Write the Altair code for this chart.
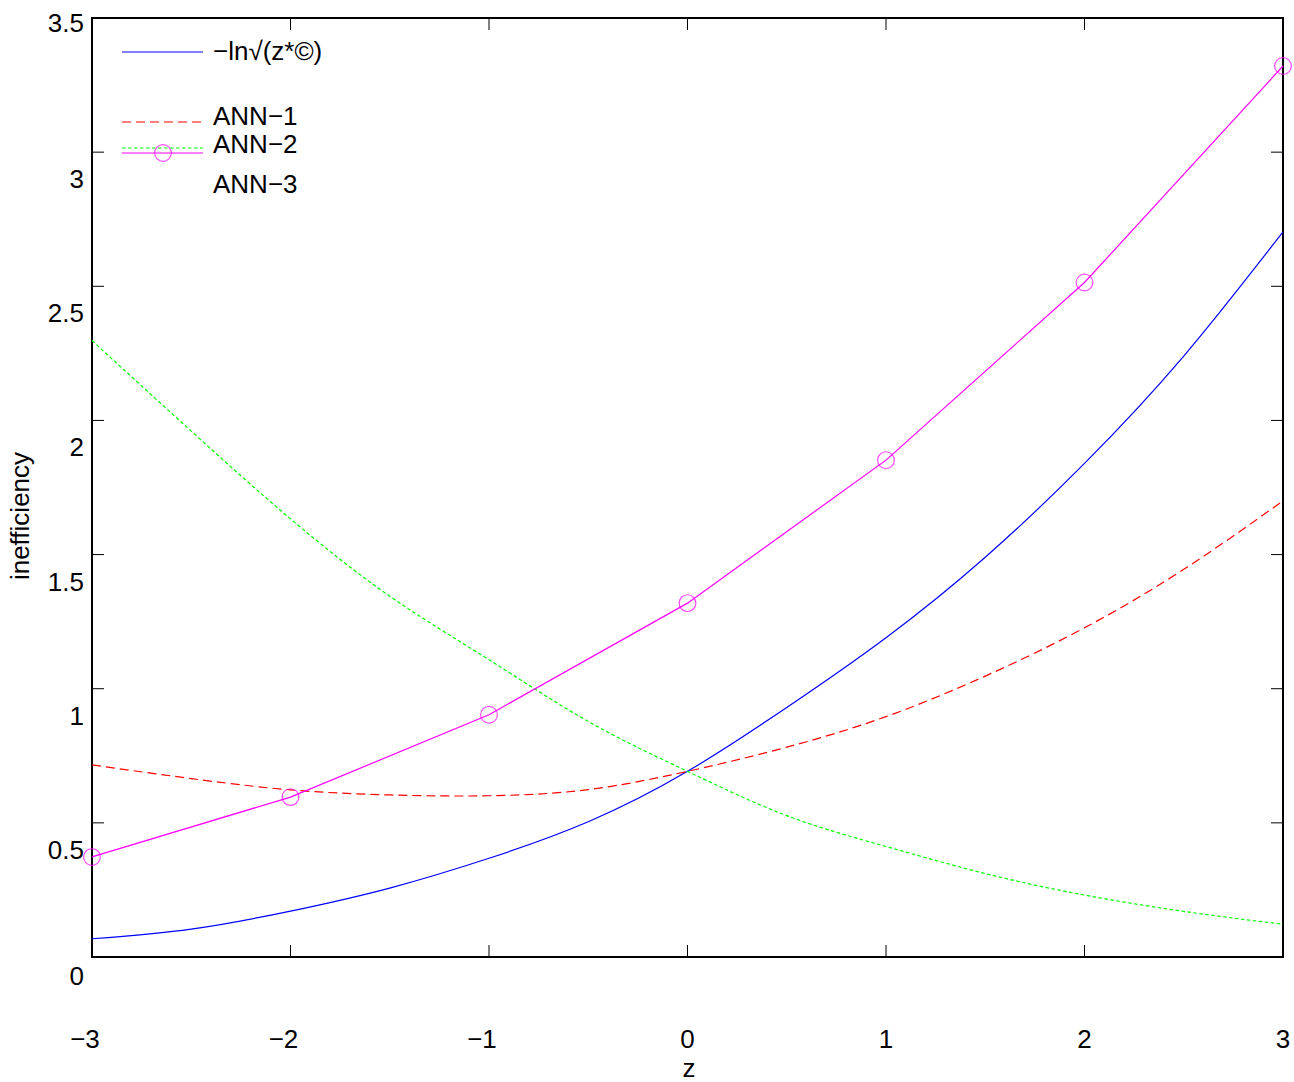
import altair as alt
import pandas as pd

# ---- data ----
z_grid = [-3, -2.5, -2, -1.5, -1, -0.5, 0, 0.5, 1, 1.5, 2, 2.5, 3]
exact_vals = [0.068, 0.104, 0.171, 0.257, 0.368, 0.504, 0.692, 0.93, 1.19, 1.49, 1.84, 2.24, 2.703]
ann1_vals = [0.716, 0.665, 0.623, 0.604, 0.601, 0.624, 0.692, 0.782, 0.896, 1.047, 1.227, 1.445, 1.700]
ann2_vals = [2.298, 1.96, 1.633, 1.345, 1.108, 0.878, 0.692, 0.527, 0.412, 0.311, 0.231, 0.170, 0.122]
z_ann3 = [-3, -2, -1, 0, 1, 2, 3]
ann3_vals = [0.373, 0.596, 0.903, 1.319, 1.852, 2.514, 3.321]

x_ticks = [-3, -2, -1, 0, 1, 2, 3]
x_tick_labels = ["\u22123", "\u22122", "\u22121", "0", "1", "2", "3"]
y_ticks = [0, 0.5, 1, 1.5, 2, 2.5, 3, 3.5]
y_tick_labels = ["0", "0.5", "1", "1.5", "2", "2.5", "3", "3.5"]

legend_labels = ["\u2212ln\u221a(z*\u00a9)", "ANN\u22121", "ANN\u22122", "ANN\u22123"]
x_title = "z"
y_title = "inefficiency"

W, H = 1191, 939
FONT = "Liberation Sans"
FS = 26
TICK = 12

xs = alt.Scale(domain=[-3, 3], nice=False, zero=False)
ys = alt.Scale(domain=[0, 3.5], nice=False, zero=False)

df_exact = pd.DataFrame({"z": z_grid, "v": exact_vals})
df_ann1 = pd.DataFrame({"z": z_grid, "v": ann1_vals})
df_ann2 = pd.DataFrame({"z": z_grid, "v": ann2_vals})
df_ann3 = pd.DataFrame({"z": z_ann3, "v": ann3_vals})
df_xt = pd.DataFrame({"t": x_ticks, "lab": x_tick_labels})
df_yt = pd.DataFrame({"t": y_ticks, "lab": y_tick_labels})
one = pd.DataFrame({"a": [0]})

X = lambda f: alt.X(f, scale=xs, axis=None)
Y = lambda f: alt.Y(f, scale=ys, axis=None)

blue = alt.Chart(df_exact).mark_line(color="#0000ff", strokeWidth=1.2, interpolate="natural").encode(
    x=X("z:Q"), y=Y("v:Q"))
red = alt.Chart(df_ann1).mark_line(color="#ff0000", strokeWidth=1.2, strokeDash=[9, 5], interpolate="natural").encode(
    x=X("z:Q"), y=Y("v:Q"))
green = alt.Chart(df_ann2).mark_line(color="#00ff00", strokeWidth=1.2, strokeDash=[3.5, 2.5], interpolate="natural").encode(
    x=X("z:Q"), y=Y("v:Q"))
mag = alt.Chart(df_ann3).mark_line(color="#ff00ff", strokeWidth=1.2).encode(
    x=X("z:Q"), y=Y("v:Q"))
mag_pts = alt.Chart(df_ann3).mark_point(shape="circle", size=280, filled=False, color="#ff00ff", strokeWidth=1.2).encode(
    x=X("z:Q"), y=Y("v:Q"))

# inward ticks on all four sides
tick_style = dict(color="black", strokeWidth=1)
t_bottom = alt.Chart(df_xt).mark_rule(**tick_style).encode(
    x=X("t:Q"), y=alt.value(H), y2=alt.value(H - TICK))
t_top = alt.Chart(df_xt).mark_rule(**tick_style).encode(
    x=X("t:Q"), y=alt.value(0), y2=alt.value(TICK))
t_left = alt.Chart(df_yt).mark_rule(**tick_style).encode(
    y=Y("t:Q"), x=alt.value(0), x2=alt.value(TICK))
t_right = alt.Chart(df_yt).mark_rule(**tick_style).encode(
    y=Y("t:Q"), x=alt.value(W), x2=alt.value(W - TICK))

# tick labels (MATLAB-style offsets)
txt = dict(font=FONT, fontSize=FS, color="black", baseline="alphabetic")
xl_neg = alt.Chart(df_xt).transform_filter("datum.t < 0").mark_text(align="center", dx=-7, **txt).encode(
    x=X("t:Q"), y=alt.value(H + 91), text="lab:N")
xl_pos = alt.Chart(df_xt).transform_filter("datum.t >= 0").mark_text(align="center", **txt).encode(
    x=X("t:Q"), y=alt.value(H + 91), text="lab:N")
yl_mid = alt.Chart(df_yt).transform_filter("datum.t > 0 && datum.t < 3.5").mark_text(align="right", dy=36, **txt).encode(
    y=Y("t:Q"), x=alt.value(-8), text="lab:N")
yl_top = alt.Chart(df_yt).transform_filter("datum.t >= 3.5").mark_text(align="right", dy=14, **txt).encode(
    y=Y("t:Q"), x=alt.value(-8), text="lab:N")
yl_zero = alt.Chart(df_yt).transform_filter("datum.t == 0").mark_text(align="right", dy=28, **txt).encode(
    y=Y("t:Q"), x=alt.value(-8), text="lab:N")

# axis titles
xt = alt.Chart(one).mark_text(align="center", **txt).encode(
    x=alt.value(597), y=alt.value(1059), text=alt.value(x_title))
yt = alt.Chart(one).mark_text(font=FONT, fontSize=FS, color="black", align="center", baseline="middle", angle=270).encode(
    x=alt.value(-71), y=alt.value(498), text=alt.value(y_title))

# legend (MATLAB style, no box)
lx1, lx2, tx = 30, 111, 121
leg = [
    alt.Chart(one).mark_rule(color="#0000ff", strokeWidth=1.2).encode(
        x=alt.value(lx1), x2=alt.value(lx2), y=alt.value(34)),
    alt.Chart(one).mark_rule(color="#ff0000", strokeWidth=1.2, strokeDash=[9, 5]).encode(
        x=alt.value(lx1), x2=alt.value(lx2), y=alt.value(104)),
    alt.Chart(one).mark_rule(color="#00ff00", strokeWidth=1.2, strokeDash=[3.5, 2.5]).encode(
        x=alt.value(lx1), x2=alt.value(lx2), y=alt.value(130)),
    alt.Chart(one).mark_rule(color="#ff00ff", strokeWidth=1.2).encode(
        x=alt.value(lx1), x2=alt.value(lx2), y=alt.value(135)),
    alt.Chart(one).mark_point(shape="circle", size=280, filled=False, color="#ff00ff", strokeWidth=1.2).encode(
        x=alt.value(71), y=alt.value(135)),
]
for lab, yy in zip(legend_labels, [34, 99, 127, 167]):
    leg.append(
        alt.Chart(one).mark_text(font=FONT, fontSize=FS, color="black", align="left", baseline="middle").encode(
            x=alt.value(tx), y=alt.value(yy), text=alt.value(lab))
    )

chart = alt.layer(
    blue, red, green, mag, mag_pts,
    t_bottom, t_top, t_left, t_right,
    xl_neg, xl_pos, yl_mid, yl_top, yl_zero, xt, yt,
    *leg
).properties(
    width=W, height=H,
    autosize=alt.AutoSizeParams(type="none"),
    padding={"left": 92, "top": 18, "right": 11, "bottom": 125},
    background="white",
).configure_view(stroke="black", strokeWidth=2)

chart.save("out.html", embed_options={"renderer": "svg", "actions": False})
